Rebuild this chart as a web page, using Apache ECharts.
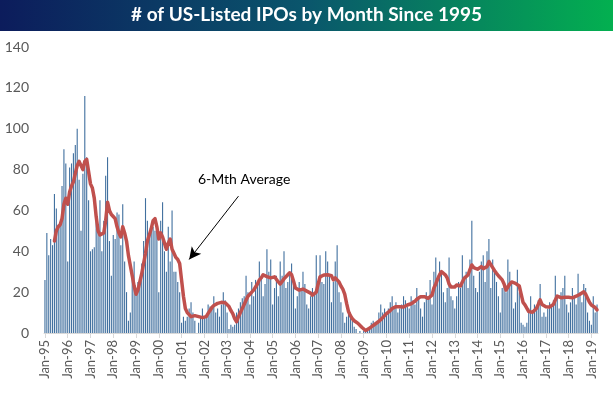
<!DOCTYPE html>
<html>
<head>
<meta charset="utf-8">
<script src="https://cdn.jsdelivr.net/npm/echarts@6/dist/echarts.min.js"></script>
<style>
html,body{margin:0;padding:0;background:#fff;}
#main{width:613px;height:394px;}
</style>
</head>
<body>
<div id="main"></div>
<script>
// ---- Data ----
const chartTitle = '# of US-Listed IPOs by Month Since 1995';
const monthNames = ['Jan','Feb','Mar','Apr','May','Jun','Jul','Aug','Sep','Oct','Nov','Dec'];
const startYear = 1995;
const endYear = 2019;
const monthsInLastYear = 4;

// Monthly number of US-listed IPOs (bars), one row per year
const ipoCounts = [
  26, 49, 38, 46, 43, 68, 61, 53, 54, 72, 90, 83,      // 1995
  35, 81, 83, 88, 92, 100, 75, 50, 78, 116, 86, 65,    // 1996
  40, 41, 42, 55, 51, 65, 40, 55, 77, 86, 45, 28,      // 1997
  48, 46, 59, 58, 43, 63, 35, 20, 6, 10, 30, 35,       // 1998
  20, 25, 24, 34, 45, 66, 55, 48, 52, 52, 50, 50,      // 1999
  20, 55, 64, 40, 30, 52, 35, 60, 30, 30, 25, 20,      // 2000
  5, 8, 6, 8, 12, 15, 10, 6, 0, 5, 8, 12,              // 2001
  8, 8, 14, 13, 12, 18, 10, 12, 8, 14, 20, 16,         // 2002
  10, 2, 4, 3, 4, 10, 12, 15, 17, 18, 28, 20,          // 2003
  14, 25, 18, 26, 24, 35, 27, 18, 24, 41, 30, 36,      // 2004
  14, 22, 28, 18, 35, 28, 40, 22, 25, 30, 34, 24,      // 2005
  12, 18, 25, 22, 30, 24, 14, 12, 18, 22, 20, 38,      // 2006
  22, 38, 25, 24, 40, 35, 28, 15, 25, 35, 43, 20,      // 2007
  15, 10, 5, 8, 12, 10, 6, 3, 2, 0, 1, 0,              // 2008
  1, 1, 2, 3, 5, 6, 5, 6, 10, 14, 10, 12,              // 2009
  10, 12, 15, 18, 12, 15, 10, 12, 14, 18, 16, 13,      // 2010
  12, 18, 16, 14, 22, 18, 12, 8, 15, 20, 18, 26,       // 2011
  14, 30, 37, 28, 35, 30, 20, 15, 22, 37, 18, 16,      // 2012
  12, 18, 25, 22, 38, 28, 30, 22, 36, 55, 28, 22,      // 2013
  20, 30, 35, 38, 25, 40, 46, 22, 36, 30, 25, 18,      // 2014
  10, 22, 25, 20, 36, 30, 25, 12, 15, 31, 20, 5,       // 2015
  4, 3, 5, 12, 18, 10, 14, 12, 16, 24, 8, 10,          // 2016
  8, 12, 15, 14, 16, 28, 18, 12, 20, 22, 28, 14,       // 2017
  10, 15, 22, 18, 14, 29, 20, 15, 24, 22, 10, 6,       // 2018
  4, 18, 10, 14                                        // 2019
];

// 6-month average line (red)
const sixMonthAvg = [
  null, null, null, null, null, 45, 50, 52, 53, 56, 63, 66,          // 1995
  63, 69, 72, 74, 78, 82, 84, 82, 80, 84, 85, 79,                    // 1996
  73, 71, 66, 57, 50, 48, 48, 49, 55, 64, 60, 58,                    // 1997
  57, 56, 52, 49, 47, 52, 49, 45, 38, 33, 28, 23,                    // 1998
  19, 21, 25, 29, 34, 39, 45, 48, 51, 55, 56, 52,                    // 1999
  46, 49, 47, 44, 41, 44, 46, 41, 39, 37, 36, 34,                    // 2000
  26, 18, 12, 10, 9, 8, 8, 8.5, 8, 8, 7.5, 7.5,                      // 2001
  7.7, 8, 9.6, 11, 12.5, 13.5, 14, 14.5, 14.5, 15, 14.8, 14.8,       // 2002
  14.5, 13, 11, 9.5, 7, 5.5, 8, 10, 12, 14, 16, 18,                  // 2003
  19, 20, 21, 22.5, 24, 26, 27, 28.5, 29, 27.6, 27, 27,              // 2004
  27, 27.5, 27, 25, 24, 24.5, 26.5, 27, 28.5, 29.5, 28.5, 25.5,      // 2005
  22, 21.5, 21, 21, 21.5, 21, 20.5, 20.5, 19.5, 18.5, 18.5, 20,      // 2006
  24, 27.5, 28.4, 28.4, 28.4, 28.5, 28.4, 28, 26, 27, 27.5, 25,      // 2007
  23, 21.5, 19, 14.5, 10.5, 8.5, 7, 6, 5.3, 4.7, 3.8, 2.8,           // 2008
  2, 1.2, 1.6, 2.3, 3, 3.7, 4.3, 5, 5.5, 6.5, 7.5, 8.5,              // 2009
  9.5, 10.2, 11, 12, 12.9, 12.9, 12.9, 12.9, 12.8, 12.7, 13.2, 13.7, // 2010
  14, 14.3, 14.7, 15.5, 16.5, 17, 17.8, 17.8, 17.8, 17.2, 17, 17.5,  // 2011
  18.5, 22, 24, 26.5, 28.5, 30, 30.5, 28.5, 27, 24, 22.5, 21.9,      // 2012
  22.5, 23.5, 23.2, 23, 25, 26.8, 27.5, 28.4, 31, 33.3, 32, 31.5,    // 2013
  31.2, 31.5, 32.5, 31.5, 32, 32.5, 35, 33.5, 32, 30.5, 29.2, 28,    // 2014
  27.6, 26, 24, 21, 22.5, 24, 25, 25.1, 24.3, 24, 23, 19,            // 2015
  15, 13.8, 12.9, 10.5, 9.6, 10.2, 11, 12, 14, 16.2, 14, 13.5,       // 2016
  12.9, 12.8, 12.7, 12.6, 14, 16.2, 18.1, 17.8, 17.3, 17, 17.5, 17.8,// 2017
  17.5, 17, 17.2, 17.8, 18, 18.5, 19, 19.5, 20.2, 19, 17, 15,        // 2018
  13.7, 13, 12.5, 11.3                                               // 2019
];

const yTicks = { min: 0, max: 140, interval: 20 };
const annotationText = '6-Mth Average';
// annotation anchors in data space: [category index, value]
const annotationTextAt = [105, 75];
const arrowFrom = [102, 67];
const arrowTo = [76, 36];

// ---- Build categories "Jan-95" ... "Apr-19" ----
const categories = [];
for (let y = startYear; y <= endYear; y++) {
  const n = (y === endYear) ? monthsInLastYear : 12;
  for (let m = 0; m < n; m++) {
    categories.push(monthNames[m] + '-' + String(y).slice(2));
  }
}

const chart = echarts.init(document.getElementById('main'), null, { renderer: 'canvas' });
const FONT = 'Lato, "Open Sans", sans-serif';

const option = {
  animation: false,
  backgroundColor: '#ffffff',
  textStyle: { fontFamily: FONT },
  grid: { left: 44, right: 15, top: 47, bottom: 61, containLabel: false },
  xAxis: {
    type: 'category',
    data: categories,
    boundaryGap: true,
    axisLine: { show: true, lineStyle: { color: '#d9d9d9', width: 1 } },
    axisTick: { show: true, interval: 11, alignWithLabel: true, length: 5, lineStyle: { color: '#d9d9d9' } },
    axisLabel: { interval: 11, rotate: 90, color: '#595959', fontSize: 13, fontFamily: FONT, margin: 7 },
    splitLine: { show: false }
  },
  yAxis: {
    type: 'value',
    min: yTicks.min, max: yTicks.max, interval: yTicks.interval,
    axisLine: { show: false },
    axisTick: { show: false },
    splitLine: { show: false },
    axisLabel: { color: '#595959', fontSize: 14, fontFamily: FONT, margin: 15 }
  },
  series: [
    {
      name: 'IPOs',
      type: 'bar',
      data: ipoCounts,
      barWidth: 1.1,
      itemStyle: { color: '#41709f' },
      z: 2
    },
    {
      name: '6-Mth Average',
      type: 'line',
      data: sixMonthAvg,
      symbol: 'none',
      showSymbol: false,
      connectNulls: false,
      lineStyle: { color: '#c0504d', width: 3.5, join: 'round', cap: 'round' },
      z: 3,
      markLine: {
        silent: true,
        symbol: ['none', 'arrow'],
        symbolSize: [9, 12],
        label: { show: false },
        lineStyle: { color: '#000000', width: 1, type: 'solid' },
        data: [[{ coord: arrowFrom }, { coord: arrowTo }]]
      }
    }
  ],
  graphic: [
    {
      id: 'titlebar', type: 'rect', left: 0, top: 0, z: 10,
      shape: { width: 613, height: 31 },
      style: {
        fill: new echarts.graphic.LinearGradient(0, 0, 1, 0, [
          { offset: 0, color: '#0c1c5c' },
          { offset: 0.5, color: '#0a566c' },
          { offset: 1, color: '#03b050' }
        ])
      }
    },
    {
      id: 'titletext', type: 'text', left: 'center', top: 5, z: 11,
      style: { text: chartTitle, fill: '#ffffff', font: 'bold 19px ' + FONT }
    }
  ]
};

chart.setOption(option);

const tp = chart.convertToPixel({ gridIndex: 0 }, annotationTextAt);
chart.setOption({
  graphic: [
    {
      id: 'annot', type: 'text', x: tp[0], y: tp[1], z: 11,
      style: { text: annotationText, fill: '#000000', font: '14px ' + FONT, align: 'center', verticalAlign: 'middle' }
    }
  ]
});
</script>
</body>
</html>
